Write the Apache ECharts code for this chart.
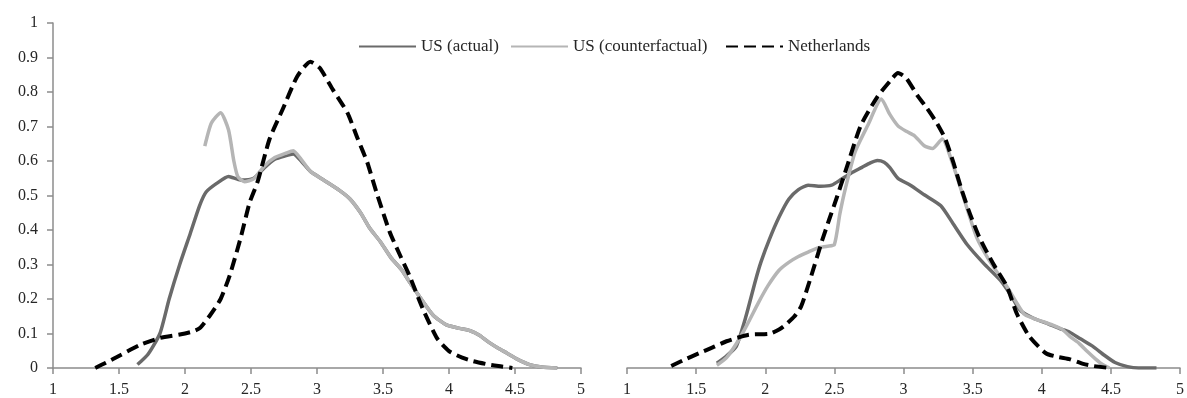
<!DOCTYPE html>
<html>
<head>
<meta charset="utf-8">
<script src="https://cdn.jsdelivr.net/npm/echarts@6/dist/echarts.min.js"></script>
<style>
html,body{margin:0;padding:0;background:#fff;}
#chart{width:1187px;height:398px;}
</style>
</head>
<body>
<div id="chart"></div>
<script>
// ---- data (x, density) ----
const seriesNames = ['US (actual)', 'US (counterfactual)', 'Netherlands'];
const xTicks = [1, 1.5, 2, 2.5, 3, 3.5, 4, 4.5, 5];
const yTicks = [0, 0.1, 0.2, 0.3, 0.4, 0.5, 0.6, 0.7, 0.8, 0.9, 1];

const leftActual = [[1.64,0.01],[1.72,0.04],[1.81,0.1],[1.88,0.2],[1.96,0.3],[2.04,0.39],[2.11,0.47],[2.16,0.51],[2.24,0.535],[2.33,0.555],[2.42,0.545],[2.52,0.55],[2.6,0.58],[2.68,0.605],[2.76,0.615],[2.82,0.62],[2.88,0.6],[2.95,0.57],[3.05,0.545],[3.17,0.515],[3.25,0.49],[3.33,0.45],[3.4,0.405],[3.48,0.366],[3.56,0.32],[3.64,0.285],[3.7,0.25],[3.78,0.205],[3.88,0.153],[3.98,0.125],[4.08,0.115],[4.16,0.108],[4.23,0.095],[4.3,0.075],[4.37,0.058],[4.44,0.043],[4.52,0.025],[4.61,0.01],[4.7,0.003],[4.82,0]];
const leftCounter = [[2.15,0.643],[2.2,0.71],[2.27,0.74],[2.33,0.69],[2.37,0.6],[2.4,0.555],[2.45,0.54],[2.52,0.548],[2.6,0.585],[2.68,0.61],[2.76,0.622],[2.82,0.63],[2.88,0.605],[2.95,0.57],[3.05,0.545],[3.17,0.515],[3.25,0.49],[3.33,0.45],[3.4,0.405],[3.48,0.366],[3.56,0.32],[3.64,0.285],[3.7,0.25],[3.78,0.205],[3.88,0.153],[3.98,0.125],[4.08,0.115],[4.16,0.108],[4.23,0.095],[4.3,0.075],[4.37,0.058],[4.44,0.043],[4.52,0.025],[4.61,0.01],[4.7,0.003],[4.82,0]];
const leftNL = [[1.32,0],[1.4,0.015],[1.51,0.037],[1.66,0.067],[1.81,0.087],[1.96,0.097],[2.05,0.105],[2.11,0.115],[2.19,0.153],[2.27,0.2],[2.34,0.27],[2.42,0.375],[2.49,0.48],[2.55,0.54],[2.64,0.663],[2.74,0.75],[2.85,0.845],[2.95,0.888],[3.02,0.87],[3.12,0.807],[3.23,0.74],[3.31,0.663],[3.38,0.597],[3.45,0.51],[3.55,0.395],[3.63,0.326],[3.7,0.268],[3.8,0.173],[3.91,0.086],[4.0,0.049],[4.1,0.03],[4.18,0.02],[4.3,0.01],[4.39,0.005],[4.48,0]];

const rightActual = [[1.65,0.014],[1.72,0.035],[1.79,0.063],[1.86,0.15],[1.93,0.256],[1.97,0.31],[2.03,0.375],[2.1,0.44],[2.17,0.492],[2.24,0.52],[2.31,0.533],[2.4,0.53],[2.48,0.533],[2.55,0.55],[2.62,0.568],[2.7,0.585],[2.76,0.598],[2.81,0.605],[2.86,0.6],[2.9,0.585],[2.96,0.553],[3.05,0.533],[3.15,0.505],[3.27,0.473],[3.36,0.42],[3.46,0.36],[3.58,0.305],[3.7,0.256],[3.78,0.21],[3.84,0.17],[3.94,0.145],[4.05,0.128],[4.13,0.115],[4.2,0.105],[4.28,0.085],[4.37,0.063],[4.45,0.038],[4.53,0.016],[4.62,0.004],[4.7,0],[4.83,0]];
const rightCounter = [[1.65,0.008],[1.72,0.03],[1.81,0.083],[1.88,0.135],[1.95,0.19],[2.02,0.24],[2.1,0.285],[2.17,0.308],[2.24,0.325],[2.31,0.338],[2.38,0.35],[2.45,0.355],[2.5,0.36],[2.54,0.45],[2.58,0.524],[2.65,0.63],[2.74,0.706],[2.84,0.784],[2.9,0.74],[2.96,0.706],[3.02,0.69],[3.08,0.677],[3.15,0.648],[3.21,0.64],[3.28,0.668],[3.36,0.59],[3.44,0.49],[3.53,0.38],[3.62,0.314],[3.75,0.236],[3.87,0.158],[3.94,0.145],[4.01,0.135],[4.08,0.125],[4.15,0.112],[4.21,0.09],[4.27,0.072],[4.33,0.048],[4.39,0.026],[4.44,0.01],[4.49,0]];
const rightNL = [[1.32,0.006],[1.42,0.025],[1.52,0.043],[1.62,0.06],[1.72,0.078],[1.88,0.097],[2.03,0.1],[2.1,0.112],[2.15,0.127],[2.21,0.15],[2.26,0.18],[2.33,0.265],[2.41,0.37],[2.46,0.43],[2.52,0.5],[2.58,0.573],[2.69,0.706],[2.81,0.79],[2.91,0.84],[2.96,0.86],[3.02,0.845],[3.1,0.795],[3.17,0.757],[3.24,0.715],[3.3,0.67],[3.36,0.6],[3.42,0.52],[3.48,0.45],[3.55,0.38],[3.65,0.303],[3.75,0.236],[3.82,0.158],[3.91,0.092],[4.03,0.043],[4.12,0.032],[4.2,0.026],[4.3,0.012],[4.37,0.006],[4.49,0]];

// ---- styling ----
const FONT = "'Liberation Serif', 'DejaVu Serif', serif";
const TEXT = '#262626';
const AXIS = '#8c8c8c';
const styles = [
  {color:'#6a6a6a', width:3.5, type:'solid'},
  {color:'#b5b5b5', width:3.5, type:'solid'},
  {color:'#000000', width:4, type:[12,6]}
];

function xAxis(gi){
  return {
    type:'value', gridIndex:gi, min:xTicks[0], max:xTicks[xTicks.length-1], interval:0.5,
    axisLine:{show:true, onZero:false, lineStyle:{color:AXIS, width:1.5}},
    axisTick:{show:true, length:6, lineStyle:{color:AXIS, width:1.5}},
    axisLabel:{show:true, margin:14, color:TEXT, fontFamily:FONT, fontSize:16,
      formatter: v => String(v)},
    splitLine:{show:false}
  };
}
function yAxis(gi, show){
  return {
    type:'value', gridIndex:gi, min:yTicks[0], max:yTicks[yTicks.length-1], interval:0.1,
    show: show,
    axisLine:{show:true, lineStyle:{color:AXIS, width:1.5}},
    axisTick:{show:true, length:6, lineStyle:{color:AXIS, width:1.5}},
    axisLabel:{show:true, margin:15, color:TEXT, fontFamily:FONT, fontSize:16,
      formatter: v => String(Math.round(v*10)/10)},
    splitLine:{show:false}
  };
}
function mk(name, data, gi, idx){
  const s = styles[idx];
  return {
    name:name, type:'line', xAxisIndex:gi, yAxisIndex:gi, data:data,
    symbol:'none', showSymbol:false, smooth:0.2,
    lineStyle:{color:s.color, width:s.width, type:s.type, cap:'butt', join:'round'},
    itemStyle:{color:s.color},
    z: 2+idx
  };
}
const legendLefts = [353, 505, 720];

const option = {
  animation:false,
  backgroundColor:'#ffffff',
  grid:[
    {left:53, top:23, width:528, height:347, containLabel:false},
    {left:627, top:25, width:558, height:347, containLabel:false}
  ],
  xAxis:[xAxis(0), xAxis(1)],
  yAxis:[yAxis(0,true), yAxis(1,false)],
  legend: seriesNames.map((n,i)=>({
    data:[n], left:legendLefts[i], top:33, orient:'horizontal',
    itemWidth:57, itemHeight:14, itemGap:8, selectedMode:false,
    itemStyle:{opacity:0, borderWidth:0},
    textStyle:{color:TEXT, fontFamily:FONT, fontSize:17, lineHeight:16}
  })),
  series:[
    mk(seriesNames[0], leftActual, 0, 0),
    mk(seriesNames[1], leftCounter, 0, 1),
    mk(seriesNames[2], leftNL, 0, 2),
    mk(seriesNames[0], rightActual, 1, 0),
    mk(seriesNames[1], rightCounter, 1, 1),
    mk(seriesNames[2], rightNL, 1, 2)
  ]
};
const chart = echarts.init(document.getElementById('chart'), null, {renderer:'canvas'});
chart.setOption(option);
</script>
</body>
</html>
